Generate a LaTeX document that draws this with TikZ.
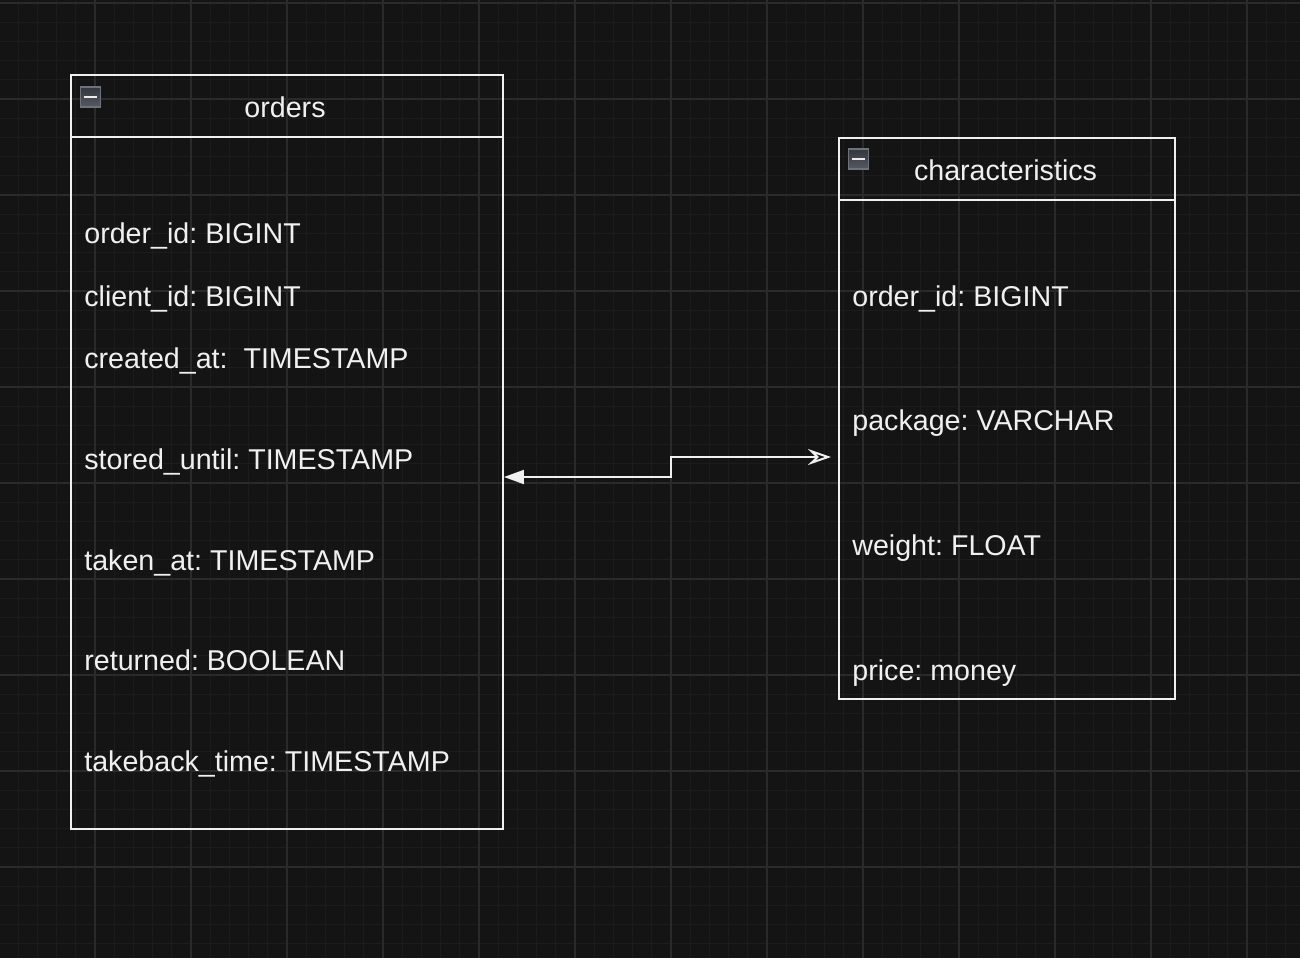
\documentclass[tikz,border=0pt]{standalone}
\usepackage{fontspec}
\setmainfont{Liberation Sans}
\usetikzlibrary{arrows.meta, positioning, calc}
\frenchspacing

\definecolor{bgdark}{HTML}{141414}
\definecolor{gridminor}{HTML}{1C1C1C}
\definecolor{gridmajor}{HTML}{2A2A2A}
\definecolor{linecol}{HTML}{F0F0F0}
\definecolor{iconborder}{HTML}{6D727B}
\definecolor{icontop}{HTML}{33363C}
\definecolor{iconbot}{HTML}{56595F}

\begin{document}
\begin{tikzpicture}[
    x=0.02cm, y=-0.02cm,
    >=Stealth,
    minorline/.style={gridminor, line width=0.02cm},
    majorline/.style={gridmajor, line width=0.03cm},
    tbl/.style={draw=linecol, line width=0.04cm, rectangle, inner sep=0pt},
    sepline/.style={linecol, line width=0.04cm},
    tbltitle/.style={anchor=base, text=linecol, inner sep=0pt,
                     font=\fontsize{16.3pt}{19pt}\selectfont},
    field/.style={anchor=base west, text=linecol, inner sep=0pt,
                  font=\fontsize{16.3pt}{19pt}\selectfont},
    icon/.style={draw=iconborder, line width=0.03cm, minimum size=0.4cm,
                 inner sep=0pt, top color=icontop, bottom color=iconbot},
    icondash/.style={white!92!black, line width=0.05cm},
    link/.style={linecol, line width=0.04cm}
  ]
  % Background and grid
  \fill[bgdark] (0,0) rectangle (1300,958);
  \useasboundingbox (0,0) rectangle (1300,958);
  \begin{scope}
    \clip (0,0) rectangle (1300,958);
    \foreach \i in {0,...,68} \draw[minorline] (-1+19.2*\i,0) -- (-1+19.2*\i,958);
    \foreach \i in {0,...,50} \draw[minorline] (0,3+19.2*\i) -- (1300,3+19.2*\i);
    \foreach \i in {0,...,13} \draw[majorline] (-1+96*\i,0) -- (-1+96*\i,958);
    \foreach \i in {0,...,9} \draw[majorline] (0,3+96*\i) -- (1300,3+96*\i);
  \end{scope}

  % Table: orders
  \node[tbl, minimum width=8.64cm, minimum height=15.08cm] (orders) at (287,452) {};
  \draw[sepline] (orders.west |- 0,137) -- (orders.east |- 0,137);
  \node[icon] (ordersIcon) at (90.5,96.8) {};
  \draw[icondash] ($(ordersIcon.center)+(-6.5,0)$) -- ($(ordersIcon.center)+(6.5,0)$);
  \node[tbltitle] (ordersTitle) at (285,117.5) {orders};

  \node[field] (oOrderId)   at (84,243.5) {order\_id: BIGINT};
  \node[field] (oClientId)  at (84,306.5) {client\_id: BIGINT};
  \node[field] (oCreated)   at (84,368.5) {created\_at:\ \ TIMESTAMP};
  \node[field] (oStored)    at (84,469.5) {stored\_until: TIMESTAMP};
  \node[field] (oTaken)     at (84,570.5) {taken\_at: TIMESTAMP};
  \node[field] (oReturned)  at (84,670.5) {returned: BOOLEAN};
  \node[field] (oTakeback)  at (84,771)   {takeback\_time: TIMESTAMP};

  % Table: characteristics
  \node[tbl, minimum width=6.72cm, minimum height=11.22cm] (chars) at (1007,418.5) {};
  \draw[sepline] (chars.west |- 0,200) -- (chars.east |- 0,200);
  \node[icon] (charsIcon) at (858.5,158.8) {};
  \draw[icondash] ($(charsIcon.center)+(-6.5,0)$) -- ($(charsIcon.center)+(6.5,0)$);
  \node[tbltitle] (charsTitle) at (1005.5,180.5) {characteristics};

  \node[field] (cOrderId)  at (852,306.5) {order\_id: BIGINT};
  \node[field] (cPackage)  at (852,430.5) {package: VARCHAR};
  \node[field] (cWeight)   at (852,555.5) {weight: FLOAT};
  \node[field] (cPrice)    at (852,680.5) {price: money};

  % Link between tables
  \coordinate (linkL) at (orders.east |- 0,477);
  \coordinate (linkBend) at (671,467);
  \coordinate (linkR) at (831,457);
  \draw[link, {Triangle[length=0.4cm, width=0.28cm]}-{Stealth[open, length=0.46cm, width=0.32cm, inset=0.16cm]}]
    (linkL) -| (linkBend) |- (linkR);
\end{tikzpicture}
\end{document}
